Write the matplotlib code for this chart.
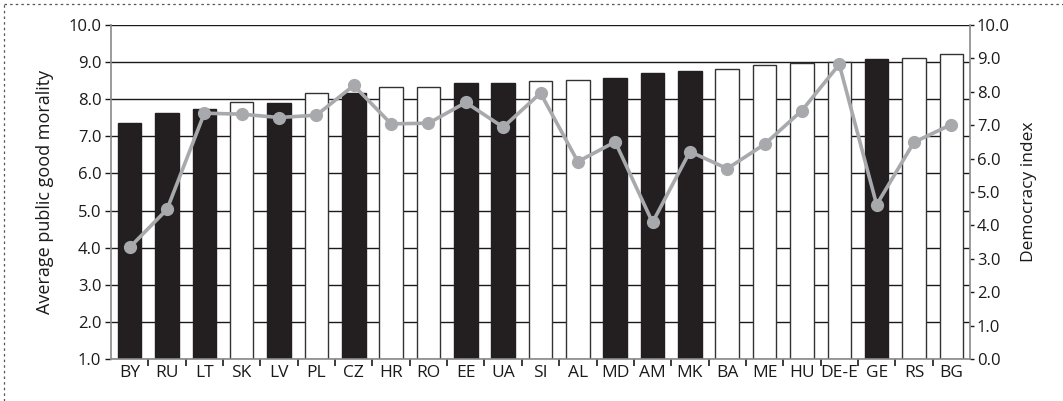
import matplotlib
matplotlib.use("Agg")
import matplotlib.pyplot as plt
from matplotlib.lines import Line2D
import numpy as np

countries = ["BY", "RU", "LT", "SK", "LV", "PL", "CZ", "HR", "RO", "EE", "UA", "SI",
             "AL", "MD", "AM", "MK", "BA", "ME", "HU", "DE-E", "GE", "RS", "BG"]
morality = [7.35, 7.62, 7.74, 7.92, 7.91, 8.18, 8.17, 8.33, 8.32, 8.44, 8.44, 8.48,
            8.51, 8.58, 8.70, 8.77, 8.82, 8.93, 8.98, 9.01, 9.08, 9.12, 9.21]
dark_bar = [True, True, True, False, True, False, True, False, False, True, True, False,
            False, True, True, True, False, False, False, False, True, False, False]
democracy = [3.34, 4.48, 7.36, 7.33, 7.23, 7.30, 8.19, 7.04, 7.06, 7.68, 6.94, 7.96,
             5.91, 6.50, 4.09, 6.21, 5.70, 6.43, 7.44, 8.82, 4.62, 6.49, 7.02]
left_ticks = [1.0, 2.0, 3.0, 4.0, 5.0, 6.0, 7.0, 8.0, 9.0, 10.0]
right_ticks = [0.0, 1.0, 2.0, 3.0, 4.0, 5.0, 6.0, 7.0, 8.0, 9.0, 10.0]

plt.rcParams['font.family'] = ['Open Sans', 'DejaVu Sans']

fig = plt.figure(figsize=(10.63, 4.01), dpi=100)
ax = fig.add_axes([111/1063, 1 - 359/401, (970 - 111)/1063, (359 - 25)/401])

x = np.arange(len(countries))
dark = "#231f20"
gray_spine = "#8a8a8a"
for xi, v, d in zip(x, morality, dark_bar):
    ax.bar(xi, v - 1.0, bottom=1.0, width=0.63,
           color=dark if d else "white", edgecolor=dark if d else "#333333",
           linewidth=1.0, zorder=2)

ax.set_xlim(-0.5, len(countries) - 0.5)
ax.set_ylim(1.0, 10.0)
ax.set_yticks(left_ticks)
ax.set_yticklabels([f"{t:.1f}" for t in left_ticks])
for t in left_ticks:
    ax.axhline(t, color="#1a1a1a", linewidth=1.0, zorder=1)
ax.set_xticks(x)
ax.set_xticklabels(countries)
ax.set_xticks(np.arange(0.5, len(countries) - 0.5, 1.0), minor=True)
ax.tick_params(axis="x", which="major", length=0, pad=4, labelsize=12.5, colors="#1a1a1a")
ax.tick_params(axis="x", which="minor", length=5, width=1.2, color="#1a1a1a", direction="out")
ax.tick_params(axis="y", length=4, width=1.0, color="#1a1a1a", labelsize=12, pad=3,
               labelcolor="#1a1a1a")
ax.set_ylabel("Average public good morality", fontsize=13, color="#1a1a1a", labelpad=10)
for s in ["top", "right"]:
    ax.spines[s].set_visible(False)
ax.spines["left"].set_color(gray_spine)
ax.spines["bottom"].set_color(gray_spine)
ax.spines["left"].set_linewidth(1.2)
ax.spines["bottom"].set_linewidth(1.2)

ax2 = ax.twinx()
ax2.plot(x, democracy, color="#a7a9ac", linewidth=2.6, marker="o", markersize=8.5,
         markerfacecolor="#a7a9ac", markeredgecolor="#a7a9ac", zorder=5)
ax2.set_ylim(0.0, 10.0)
ax2.set_yticks(right_ticks)
ax2.set_yticklabels([f"{t:.1f}" for t in right_ticks])
ax2.tick_params(axis="y", length=3, width=1.0, color="#1a1a1a", labelsize=12, pad=2,
                labelcolor="#1a1a1a")
ax2.set_ylabel("Democracy index", fontsize=12.5, color="#1a1a1a", labelpad=8)
for s in ["top", "left", "bottom"]:
    ax2.spines[s].set_visible(False)
ax2.spines["right"].set_color(gray_spine)
ax2.spines["right"].set_linewidth(1.2)

# dotted frame (top and left)
fig.add_artist(Line2D([4/1063, 1.0], [1 - 4/401, 1 - 4/401], transform=fig.transFigure,
                      color="#555555", linewidth=0.9, linestyle=(0, (2, 2.5))))
fig.add_artist(Line2D([4/1063, 4/1063], [0.0, 1 - 4/401], transform=fig.transFigure,
                      color="#555555", linewidth=0.9, linestyle=(0, (2, 2.5))))

fig.savefig("out.png", dpi=100)
